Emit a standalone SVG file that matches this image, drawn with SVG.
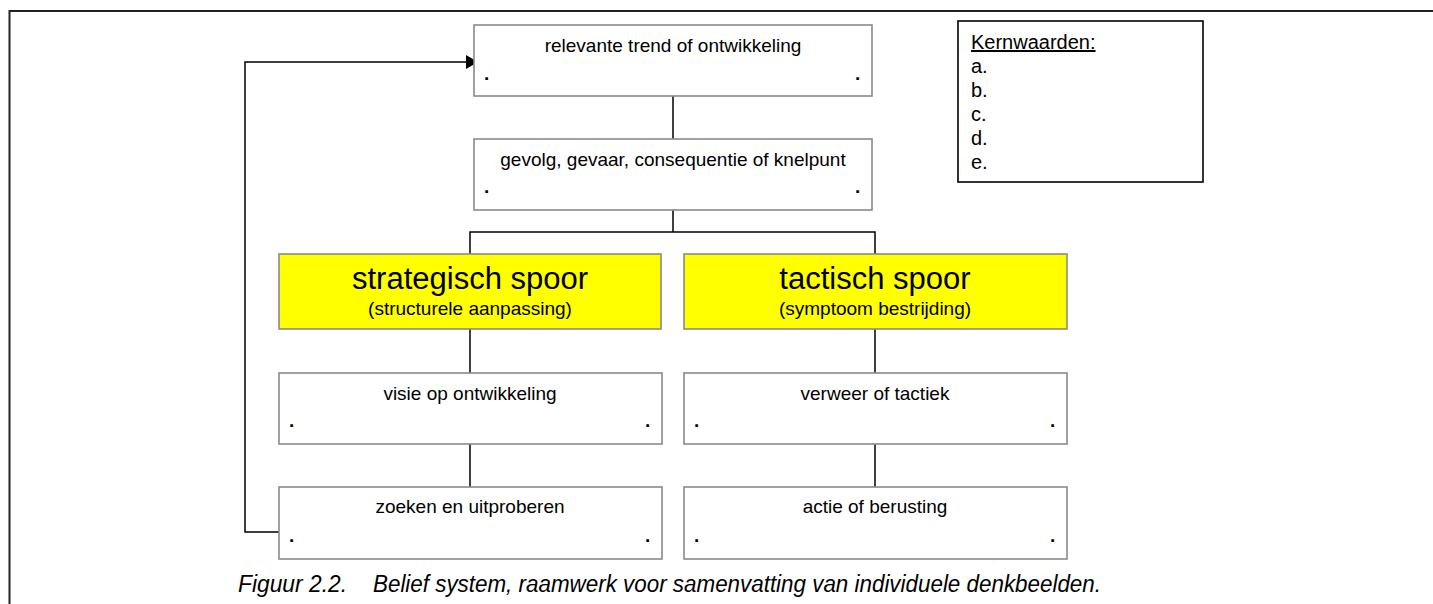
<svg xmlns="http://www.w3.org/2000/svg" width="1433" height="604" viewBox="0 0 1433 604">
  <defs>
    <style>
      .box { fill: #ffffff; stroke: #8a8a8a; stroke-width: 1.6; }
      .track { fill: #ffff00; stroke: #8a8a8a; stroke-width: 1.6; }
      .legend { fill: #ffffff; stroke: #000000; stroke-width: 1.6; }
      .lbl { font-family: "Liberation Sans", Arial, sans-serif; font-size: 19px; fill: #000; text-anchor: middle; }
      .dot { font-family: "Liberation Sans", Arial, sans-serif; font-size: 19px; font-weight: bold; fill: #000; }
      .big { font-family: "Liberation Sans", Arial, sans-serif; font-size: 31px; fill: #000; text-anchor: middle; }
      .leg { font-family: "Liberation Sans", Arial, sans-serif; font-size: 20px; fill: #000; }
      .cap { font-family: "Liberation Sans Narrow", "Liberation Sans", Arial, sans-serif; font-size: 23px; font-style: italic; fill: #000; }
      .wire { fill: none; stroke: #000; stroke-width: 1.5; }
    </style>
    <marker id="arrow" viewBox="0 0 12 14" refX="12" refY="7" markerWidth="12" markerHeight="14" markerUnits="userSpaceOnUse" orient="auto">
      <path d="M0,0 L12,7 L0,14 Z" fill="#000"/>
    </marker>
  </defs>

  <!-- page frame -->
  <path d="M9.5,604 V11 H1433" fill="none" stroke="#222" stroke-width="2"/>

  <!-- connectors -->
  <g id="connectors">
    <path class="wire" d="M673,96 V139"/>
    <path class="wire" d="M673,210 V232"/>
    <path class="wire" d="M470,254 V232 H875 V254"/>
    <path class="wire" d="M470,329 V373"/>
    <path class="wire" d="M470,444 V487"/>
    <path class="wire" d="M875,329 V373"/>
    <path class="wire" d="M875,444 V487"/>
    <path class="wire" d="M279,532 H245 V62 H478" marker-end="url(#arrow)"/>
  </g>

  <g id="trend">
    <rect class="box" x="474" y="25" width="398" height="71"/>
    <text class="lbl" x="673" y="52">relevante trend of ontwikkeling</text>
    <text class="dot" x="484" y="80">.</text>
    <text class="dot" x="855" y="80">.</text>
  </g>

  <g id="gevolg">
    <rect class="box" x="474" y="139" width="398" height="71"/>
    <text class="lbl" x="673" y="166">gevolg, gevaar, consequentie of knelpunt</text>
    <text class="dot" x="484" y="193">.</text>
    <text class="dot" x="855" y="193">.</text>
  </g>

  <g id="kernwaarden">
    <rect class="legend" x="958" y="21" width="245" height="161"/>
    <text class="leg" x="971" y="49" text-decoration="underline">Kernwaarden:</text>
    <text class="leg" x="971" y="73">a.</text>
    <text class="leg" x="971" y="97">b.</text>
    <text class="leg" x="971" y="121">c.</text>
    <text class="leg" x="971" y="145">d.</text>
    <text class="leg" x="971" y="169">e.</text>
  </g>

  <g id="strategisch">
    <rect class="track" x="279" y="254" width="382" height="75"/>
    <text class="big" x="470" y="289">strategisch spoor</text>
    <text class="lbl" x="470" y="315">(structurele aanpassing)</text>
  </g>

  <g id="tactisch">
    <rect class="track" x="684" y="254" width="383" height="75"/>
    <text class="big" x="875" y="289">tactisch spoor</text>
    <text class="lbl" x="875" y="315">(symptoom bestrijding)</text>
  </g>

  <g id="visie">
    <rect class="box" x="279" y="373" width="383" height="71"/>
    <text class="lbl" x="470" y="400">visie op ontwikkeling</text>
    <text class="dot" x="289" y="427">.</text>
    <text class="dot" x="645" y="427">.</text>
  </g>

  <g id="zoeken">
    <rect class="box" x="279" y="487" width="383" height="72"/>
    <text class="lbl" x="470" y="513">zoeken en uitproberen</text>
    <text class="dot" x="289" y="542">.</text>
    <text class="dot" x="645" y="542">.</text>
  </g>

  <g id="verweer">
    <rect class="box" x="684" y="373" width="383" height="71"/>
    <text class="lbl" x="875" y="400">verweer of tactiek</text>
    <text class="dot" x="694" y="427">.</text>
    <text class="dot" x="1050" y="427">.</text>
  </g>

  <g id="actie">
    <rect class="box" x="684" y="487" width="383" height="72"/>
    <text class="lbl" x="875" y="513">actie of berusting</text>
    <text class="dot" x="694" y="542">.</text>
    <text class="dot" x="1050" y="542">.</text>
  </g>

  <!-- caption -->
  <text class="cap" x="238" y="592" textLength="109" lengthAdjust="spacingAndGlyphs">Figuur 2.2.</text>
  <text class="cap" x="373" y="592" textLength="728" lengthAdjust="spacingAndGlyphs">Belief system, raamwerk voor samenvatting van individuele denkbeelden.</text>
</svg>
